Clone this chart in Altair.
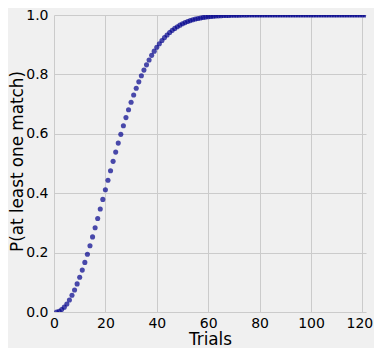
import altair as alt
import pandas as pd

trials = list(range(1, 122))
prob = [
    0.0, 0.0027, 0.0082, 0.0164, 0.0271, 0.0405, 0.0562, 0.0743, 0.0946, 0.1169,
    0.1411, 0.1670, 0.1944, 0.2231, 0.2529, 0.2836, 0.3150, 0.3469, 0.3791, 0.4114,
    0.4437, 0.4757, 0.5073, 0.5383, 0.5687, 0.5982, 0.6269, 0.6545, 0.6810, 0.7063,
    0.7305, 0.7533, 0.7750, 0.7953, 0.8144, 0.8322, 0.8487, 0.8641, 0.8782, 0.8912,
    0.9032, 0.9140, 0.9239, 0.9329, 0.9410, 0.9483, 0.9548, 0.9606, 0.9658, 0.9704,
    0.9744, 0.9780, 0.9811, 0.9839, 0.9863, 0.9883, 0.9901, 0.9917, 0.9930, 0.9941,
    0.9951, 0.9959, 0.9966, 0.9972, 0.9977, 0.9981, 0.9984, 0.9987, 0.9990, 0.9992,
    0.9993, 0.9995, 0.9996, 0.9997, 0.9997, 0.9998, 0.9998, 0.9999, 0.9999, 0.9999,
] + [1.0] * 41

x_ticks = [0, 20, 40, 60, 80, 100, 120]
y_ticks = [0.0, 0.2, 0.4, 0.6, 0.8, 1.0]

df = pd.DataFrame({"Trials": trials, "P": prob})

FONT = "DejaVu Sans"

chart = alt.Chart(df).mark_circle(
    size=26, color="#00008b", opacity=0.7, clip=True
).encode(
    x=alt.X(
        "Trials:Q",
        scale=alt.Scale(domain=[0, 121.4], nice=False, zero=False),
        axis=alt.Axis(
            values=x_ticks, format="d", title="Trials",
            titleFontSize=16.8, titleFont=FONT, titleFontWeight="normal",
            titleColor="#000000", titleX=156, titleY=32,
            titleBaseline="alphabetic", titleAlign="center",
            labelFontSize=14, labelFont=FONT, labelColor="#000000",
            labelPadding=4, tickSize=0, ticks=False, domain=False,
            labelOffset={"expr": "datum.value == 120 ? -3 : 0"},
            grid=True, gridColor="#cbcbcb", gridWidth=1, labelFlush=False,
        ),
    ),
    y=alt.Y(
        "P:Q",
        scale=alt.Scale(domain=[0, 1], nice=False),
        axis=alt.Axis(
            values=y_ticks, format=".1f", title="P(at least one match)",
            titleFontSize=16.8, titleFont=FONT, titleFontWeight="normal",
            titleColor="#000000", titleX=-37, titleY=146,
            titleBaseline="middle", titleAlign="center", titleAngle=270,
            labelFontSize=14, labelFont=FONT, labelColor="#000000",
            labelPadding=6, tickSize=0, ticks=False, domain=False,
            grid=True, gridColor="#cbcbcb", gridWidth=1, labelFlush=False,
        ),
    ),
).properties(
    width=312, height=297,
    autosize=alt.AutoSizeParams(type="none"),
    padding={"left": 46, "top": 7, "right": 8, "bottom": 36},
    background="#f0f0f0",
).configure_view(
    stroke=None, fill="#f0f0f0"
)

chart.save("out.html", embed_options={"renderer": "svg", "actions": False})
